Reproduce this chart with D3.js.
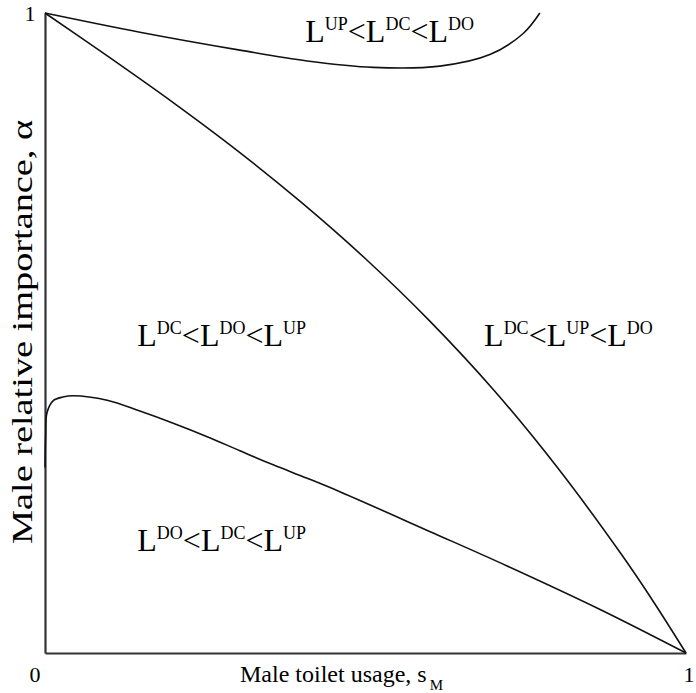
<!DOCTYPE html>
<html>
<head>
<meta charset="utf-8">
<script src="https://cdn.jsdelivr.net/npm/d3@7"></script>
<style>
  html, body { margin: 0; padding: 0; background: #fff; }
  svg { display: block; font-family: "Liberation Serif", "Times New Roman", serif; }
</style>
</head>
<body>
<svg id="chart" width="696" height="693"></svg>
<script>
// ---- data ----
const sM_diag     = [0, 0.1, 0.2, 0.3, 0.4, 0.5, 0.6, 0.7, 0.8, 0.9, 0.95, 1];
const alpha_diag  = [1, 0.931, 0.860, 0.785, 0.704, 0.616, 0.519, 0.411, 0.289, 0.153, 0.079, 0];

const sM_upper    = [0, 0.148, 0.304, 0.409, 0.512, 0.616, 0.694, 0.746, 0.772];
const alpha_upper = [1, 0.970, 0.942, 0.925, 0.915, 0.917, 0.935, 0.968, 1.0];

const sM_lower    = [0, 0.001, 0.003, 0.0125, 0.028, 0.044, 0.097, 0.148, 0.200, 0.253, 0.304, 0.356, 0.409, 0.460, 0.600, 0.721, 0.866, 1];
const alpha_lower = [0.29, 0.34, 0.375, 0.394, 0.400, 0.402, 0.395, 0.378, 0.359, 0.338, 0.316, 0.294, 0.273, 0.252, 0.190, 0.136, 0.068, 0];

const xTickLabels = ["0", "1"];
const yTickLabels = ["1"];
const xTitle = "Male toilet usage, s";
const xTitleSub = "M";
const yTitle = "Male relative importance, \u03B1";

// region labels: [sM, alpha, parts]
const regionPos = [[0.406, 0.955], [0.144, 0.480], [0.685, 0.480], [0.144, 0.160]];
const regionText = [
  ["UP", "DC", "DO"],
  ["DC", "DO", "UP"],
  ["DC", "UP", "DO"],
  ["DO", "DC", "UP"]
];

// ---- drawing ----
const svg = d3.select("#chart");
const x = d3.scaleLinear().domain([0, 1]).range([45, 686]);
const y = d3.scaleLinear().domain([0, 1]).range([653, 13]);

// axes (only left and bottom lines)
svg.append("g")
  .attr("transform", `translate(0,${y(0)})`)
  .call(d3.axisBottom(x).tickValues([]).tickSizeOuter(0))
  .call(g => g.select(".domain").attr("stroke", "#333").attr("stroke-width", 2.2));
svg.append("g")
  .attr("transform", `translate(${x(0)},0)`)
  .call(d3.axisLeft(y).tickValues([]).tickSizeOuter(0))
  .call(g => g.select(".domain").attr("stroke", "#333").attr("stroke-width", 2.2));

// tick labels
svg.append("text").attr("x", x(0) - 10).attr("y", y(0) + 29)
  .attr("text-anchor", "middle").attr("font-size", 22).text(xTickLabels[0]);
svg.append("text").attr("x", x(1) + 3).attr("y", y(0) + 29)
  .attr("text-anchor", "middle").attr("font-size", 22).text(xTickLabels[1]);
svg.append("text").attr("x", x(0) - 15).attr("y", y(1) + 8)
  .attr("text-anchor", "middle").attr("font-size", 22).text(yTickLabels[0]);

// curves
const line = d3.line().x(d => x(d[0])).y(d => y(d[1])).curve(d3.curveCatmullRom.alpha(0.5));
const curves = [
  d3.zip(sM_diag, alpha_diag),
  d3.zip(sM_upper, alpha_upper),
  d3.zip(sM_lower, alpha_lower)
];
svg.append("g").selectAll("path").data(curves).join("path")
  .attr("d", line)
  .attr("fill", "none")
  .attr("stroke", "#111")
  .attr("stroke-width", 1.6);

// region labels
regionText.forEach((parts, i) => {
  const t = svg.append("text")
    .attr("x", x(regionPos[i][0]))
    .attr("y", y(regionPos[i][1]))
    .attr("font-size", 32)
    .attr("fill", "#000");
  parts.forEach((p, j) => {
    t.append("tspan").text("L");
    t.append("tspan").attr("font-size", 18).attr("dy", -12).text(p);
    t.append("tspan").attr("dy", 12).text(j < parts.length - 1 ? "<" : "");
  });
});

// axis titles
const xt = svg.append("text")
  .attr("x", 240).attr("y", 682)
  .attr("font-size", 24).attr("fill", "#000");
xt.append("tspan").text(xTitle);
xt.append("tspan").attr("font-size", 15).attr("dx", 3).attr("dy", 8).text(xTitleSub);

svg.append("text")
  .attr("transform", `translate(32,${y(0.5) - 1}) rotate(-90)`)
  .attr("text-anchor", "middle")
  .attr("font-size", 30)
  .attr("textLength", 424)
  .attr("lengthAdjust", "spacingAndGlyphs")
  .attr("fill", "#000")
  .text(yTitle);
</script>
</body>
</html>
